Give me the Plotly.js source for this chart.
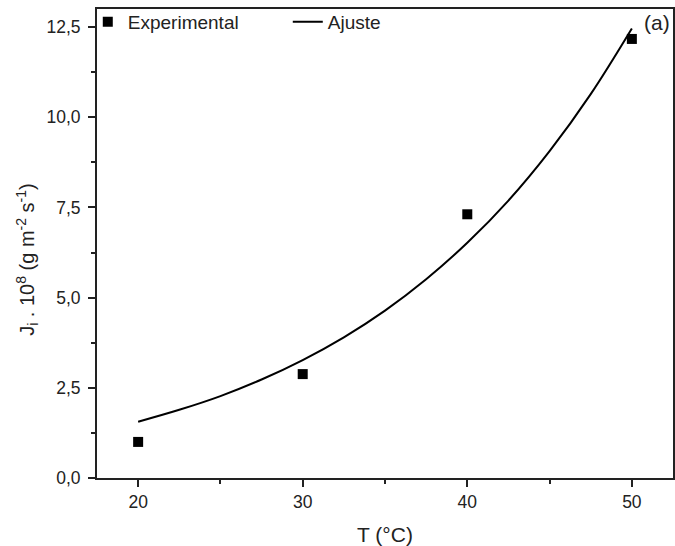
<!DOCTYPE html>
<html>
<head>
<meta charset="utf-8">
<script src="https://cdn.plot.ly/plotly-3.0.1.min.js"></script>
<style>html,body{margin:0;padding:0;background:#fff;}#chart{width:675px;height:546px;}</style>
</head>
<body>
<div id="chart"></div>
<script>
// Experimental points
var expT = [20, 30, 40, 50];
var expJ = [1.0, 2.88, 7.31, 12.17];
// Fitted curve
var fitT = [20, 22.5, 25, 27.5, 30, 32.5, 35, 37.5, 40, 42.5, 45, 47.5, 50];
var fitJ = [1.56, 1.89, 2.27, 2.73, 3.27, 3.90, 4.64, 5.51, 6.52, 7.69, 9.06, 10.64, 12.46];
var xTicks = [20, 30, 40, 50];
var yTicks = [0, 2.5, 5, 7.5, 10, 12.5];
var yTickText = ['0,0', '2,5', '5,0', '7,5', '10,0', '12,5'];

var fam = 'Liberation Sans, Arial, sans-serif';
var col = '#222';

var traces = [
  {x: expT, y: expJ, mode: 'markers', type: 'scatter', name: 'Experimental',
   marker: {symbol: 'square', size: 10, color: '#000'}},
  {x: fitT, y: fitJ, mode: 'lines', type: 'scatter', name: 'Ajuste',
   line: {color: '#000', width: 2, shape: 'spline'}}
];

var layout = {
  width: 675, height: 546,
  margin: {l: 97, r: 2, t: 9, b: 68},
  paper_bgcolor: '#fff', plot_bgcolor: '#fff',
  font: {family: fam, size: 17, color: col},
  showlegend: true,
  legend: {orientation: 'h', x: -0.016, y: 1.013, xanchor: 'left', yanchor: 'top',
           bgcolor: 'rgba(0,0,0,0)', font: {family: fam, size: 19, color: col},
           entrywidth: 155, entrywidthmode: 'pixels', itemwidth: 30},
  xaxis: {
    range: [17.5, 52.5], tickvals: xTicks, ticks: 'outside', ticklen: 7, tickwidth: 2,
    tickcolor: col, showline: true, linecolor: col, linewidth: 2, mirror: true,
    showgrid: false, zeroline: false, tickfont: {family: fam, size: 17.5, color: col},
    minor: {dtick: 5, ticks: 'outside', ticklen: 4, tickwidth: 2, tickcolor: col, showgrid: false},
    title: {text: 'T (°C)', font: {family: fam, size: 21, color: col}, standoff: 16}
  },
  yaxis: {
    range: [0, 13], tickvals: yTicks, ticktext: yTickText, ticks: 'outside', ticklen: 7, tickwidth: 2,
    tickcolor: col, showline: true, linecolor: col, linewidth: 2, mirror: true,
    showgrid: false, zeroline: false, tickfont: {family: fam, size: 17.5, color: col},
    ticklabelstandoff: 4,
    minor: {dtick: 1.25, ticks: 'outside', ticklen: 4, tickwidth: 2, tickcolor: col, showgrid: false}
  },
  annotations: [
    {text: '(a)', xref: 'paper', yref: 'paper', x: 1, y: 1, xanchor: 'right', yanchor: 'top',
     xshift: -1, yshift: 0, showarrow: false, font: {family: fam, size: 21, color: col}},
    {text: 'J<sub>i</sub> . 10<sup>8</sup> (g m<sup>-2</sup> s<sup>-1</sup>)', xref: 'paper', yref: 'paper',
     x: -0.12, y: 0.467, xanchor: 'center', yanchor: 'middle', textangle: -90, showarrow: false,
     font: {family: fam, size: 20, color: col}}
  ]
};

Plotly.newPlot('chart', traces, layout, {displayModeBar: false, staticPlot: true});
</script>
</body>
</html>
